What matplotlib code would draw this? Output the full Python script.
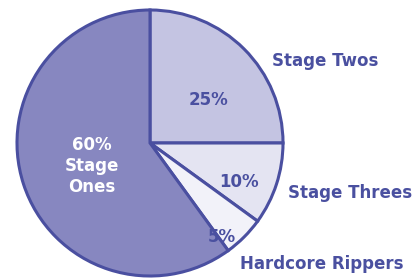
import matplotlib
matplotlib.use("Agg")
import matplotlib.pyplot as plt

# slices, clockwise from 12 o'clock
names = ["Stage Twos", "Stage Threes", "Hardcore Rippers", "Stage Ones"]
shares = [25, 10, 5, 60]
colors = ["#c4c4e2", "#e4e4f2", "#f2f2f9", "#8787c0"]

EDGE = "#4a4fa0"
TEXT = "#4a50a0"
FONT = "DejaVu Sans"
H = 278

fig = plt.figure(figsize=(4.16, 2.78), dpi=100)
ax = fig.add_axes([0, 0, 1, 1])

ax.pie(shares, colors=colors, startangle=90, counterclock=False,
       center=(150, H - 143), radius=133, frame=True,
       wedgeprops=dict(edgecolor=EDGE, linewidth=2.2))
ax.set_xlim(0, 416)
ax.set_ylim(0, H)
ax.set_aspect("equal")
ax.axis("off")

# percentage labels inside the slices (positions in pixels from top-left)
pct_pos = [(209, 100), (239, 182), (222, 237)]
for (x, y), v in zip(pct_pos, shares[:3]):
    ax.text(x, H - y, f"{v}%", color=TEXT, fontsize=12, fontweight="bold",
            family=FONT, ha="center", va="center")
ax.text(92, H - 166, f"{shares[3]}%\nStage\nOnes", color="white", fontsize=12,
        fontweight="bold", family=FONT, ha="center", va="center",
        linespacing=1.25)

# outside names
name_pos = [(272, 61), (288, 193), (240, 264)]
for (x, y), n in zip(name_pos, names[:3]):
    ax.text(x, H - y, n, color=TEXT, fontsize=12, fontweight="bold",
            family=FONT, ha="left", va="center")

fig.savefig("out.png", dpi=100)
